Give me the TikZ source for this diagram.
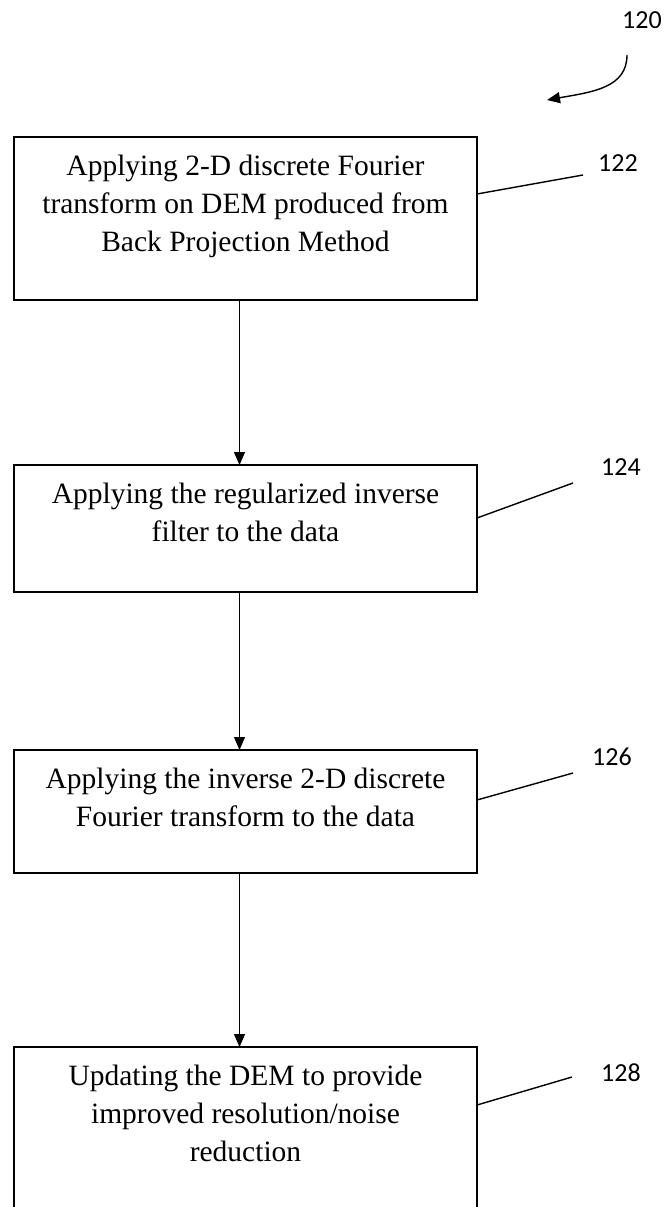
\documentclass[tikz,border=0pt]{standalone}
\usepackage{fontspec}
\setmainfont{Liberation Serif}
\newfontfamily\refnumfont{Carlito}
\usetikzlibrary{arrows.meta,positioning}

\begin{document}
\begin{tikzpicture}[
    x=1pt, y=-1pt,
    stepbox/.style={draw, line width=1.3pt, minimum width=463pt, inner sep=0pt, outer sep=0pt},
    steptext/.style={inner sep=0pt, align=center, font=\fontsize{29.5}{38}\selectfont},
    refnum/.style={inner sep=0pt, font=\refnumfont\fontsize{26}{30}\selectfont},
    arr/.style={-{Triangle[length=13pt,width=11pt]}, line width=1.2pt},
    lead/.style={line width=1.4pt}
]
\useasboundingbox (0,0) rectangle (665,1207);

% flow boxes
\node[stepbox, minimum height=163pt] (b1) at (245.5,218.5) {};
\node[stepbox, minimum height=127pt, below=165pt of b1] (b2) {};
\node[stepbox, minimum height=123pt, below=158pt of b2] (b3) {};
\node[stepbox, minimum height=170pt, below=174pt of b3] (b4) {};

\node[steptext, below=18pt of b1.north] (t1) {Applying 2-D discrete Fourier\\transform on DEM produced from\\Back Projection Method};
\node[steptext, below=18pt of b2.north] (t2) {Applying the regularized inverse\\filter to the data};
\node[steptext, below=18pt of b3.north] (t3) {Applying the inverse 2-D discrete\\Fourier transform to the data};
\node[steptext, below=18pt of b4.north] (t4) {Updating the DEM to provide\\improved resolution/noise\\reduction};

\draw[arr] ([xshift=-6pt]b1.south) -- ([xshift=-6pt]b2.north);
\draw[arr] ([xshift=-6pt]b2.south) -- ([xshift=-6pt]b3.north);
\draw[arr] ([xshift=-6pt]b3.south) -- ([xshift=-6pt]b4.north);

% reference numerals
\node[refnum] (n120) at (642,20) {120};
\node[refnum] (n122) at (618,163) {122};
\node[refnum] (n124) at (621,467) {124};
\node[refnum] (n126) at (612,757) {126};
\node[refnum] (n128) at (621,1073) {128};

\coordinate (e122) at (583,175);
\coordinate (e124) at (573,483);
\coordinate (e126) at (573,773);
\coordinate (e128) at (572,1077);

\draw[lead] ([yshift=-57pt]b1.north east) -- (e122);
\draw[lead] ([yshift=-53pt]b2.north east) -- (e124);
\draw[lead] ([yshift=-50pt]b3.north east) -- (e126);
\draw[lead] ([yshift=-58pt]b4.north east) -- (e128);

\coordinate (c120a) at (627,55);
\coordinate (c120b) at (547,100);
\draw[arr, line width=1.4pt] (c120a) .. controls (627,88) and (592,92) .. (c120b);
\end{tikzpicture}
\end{document}
